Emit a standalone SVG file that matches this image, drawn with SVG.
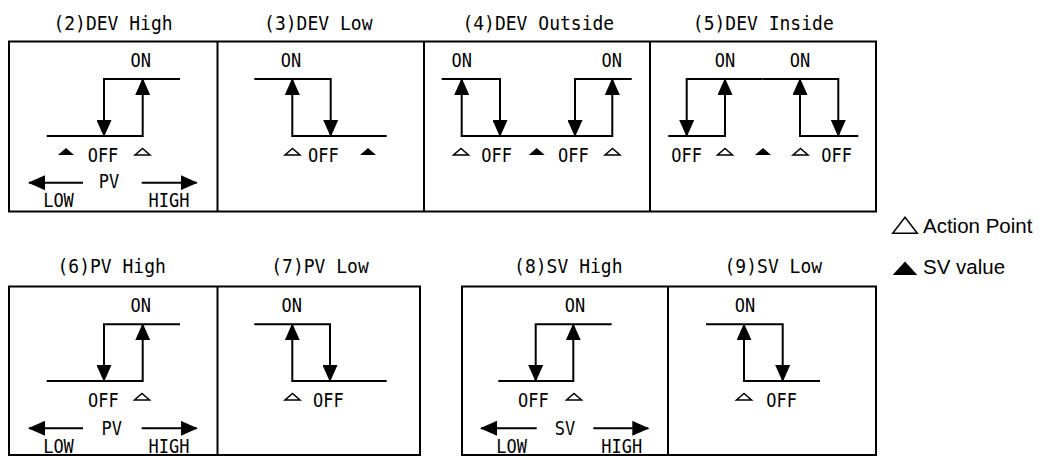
<svg xmlns="http://www.w3.org/2000/svg" width="1042" height="456" viewBox="0 0 1042 456">
<style>
.fr{fill:none;stroke:#000;stroke-width:2}
.c{fill:none;stroke:#000;stroke-width:2;marker-end:url(#ah)}
.t,.h{font-family:"DejaVu Sans Mono","Liberation Mono",monospace;fill:#000;text-anchor:middle;transform-box:fill-box;transform-origin:50% 79.7%;transform:scale(1,1.12)}
.t{font-size:17px}
.h{font-size:18px}
.lg{font-family:"Liberation Sans",Arial,sans-serif;font-size:20.5px;fill:#000}
.ft{fill:#000}
.ot{fill:#fff;stroke:#000;stroke-width:1.5}
</style>
<defs>
<marker id="ah" viewBox="0 0 17 15" refX="16" refY="7.5" markerWidth="17" markerHeight="15" orient="auto" markerUnits="userSpaceOnUse">
<path d="M0,0 L17,7.5 L0,15 z" fill="#000"/>
</marker>
<polygon id="sf" class="ft" points="-8,3.5 8,3.5 0,-3.5"/>
<polygon id="so" class="ot" points="-7.5,3.5 7.5,3.5 0,-3"/>
</defs>
<rect width="1042" height="456" fill="#fff"/>
<g id="frames">
<rect class="fr" x="9" y="41.5" width="867" height="170"/>
<line class="fr" x1="217.5" y1="41.5" x2="217.5" y2="211.5"/>
<line class="fr" x1="424" y1="41.5" x2="424" y2="211.5"/>
<line class="fr" x1="650" y1="41.5" x2="650" y2="211.5"/>
<rect class="fr" x="9" y="286.5" width="411" height="168.5"/>
<line class="fr" x1="217.5" y1="286.5" x2="217.5" y2="455"/>
<rect class="fr" x="462" y="286.5" width="414" height="168.5"/>
<line class="fr" x1="668" y1="286.5" x2="668" y2="455"/>
</g>
<g id="p2">
<text class="h" x="113" y="30">(2)DEV High</text>
<text class="t" x="140.7" y="66.7">ON</text>
<use href="#sf" x="66" y="151.5"/>
<text class="t" x="103" y="161.7">OFF</text>
<use href="#so" x="142.5" y="151.5"/>
<text class="t" x="109" y="188">PV</text>
<text class="t" x="58.5" y="206.7">LOW</text>
<text class="t" x="169" y="206.7">HIGH</text>
</g>
<g id="p3">
<text class="h" x="318.3" y="30">(3)DEV Low</text>
<text class="t" x="291" y="66.7">ON</text>
<use href="#so" x="292.5" y="151.5"/>
<text class="t" x="323.3" y="161.7">OFF</text>
<use href="#sf" x="368" y="151.5"/>
</g>
<g id="p4">
<text class="h" x="538.3" y="30">(4)DEV Outside</text>
<text class="t" x="461.7" y="66.7">ON</text>
<text class="t" x="611.7" y="66.7">ON</text>
<use href="#so" x="461" y="151.5"/>
<text class="t" x="496.7" y="161.7">OFF</text>
<use href="#sf" x="536.7" y="151.5"/>
<text class="t" x="573.3" y="161.7">OFF</text>
<use href="#so" x="612.5" y="151.5"/>
</g>
<g id="p5">
<text class="h" x="763.3" y="30">(5)DEV Inside</text>
<text class="t" x="725" y="66.7">ON</text>
<text class="t" x="800" y="66.7">ON</text>
<text class="t" x="686.7" y="161.7">OFF</text>
<use href="#so" x="725" y="151.5"/>
<use href="#sf" x="763" y="151.5"/>
<use href="#so" x="800.5" y="151.5"/>
<text class="t" x="836.7" y="161.7">OFF</text>
</g>
<g id="p6">
<text class="h" x="111.7" y="273.5">(6)PV High</text>
<text class="t" x="140.7" y="311.7">ON</text>
<text class="t" x="103.3" y="406.7">OFF</text>
<use href="#so" x="142" y="396.5"/>
<text class="t" x="111.7" y="435">PV</text>
<text class="t" x="58.5" y="453">LOW</text>
<text class="t" x="169" y="453">HIGH</text>
</g>
<g id="p7">
<text class="h" x="320" y="273.5">(7)PV Low</text>
<text class="t" x="291.7" y="311.7">ON</text>
<use href="#so" x="292.5" y="396.5"/>
<text class="t" x="328.3" y="406.7">OFF</text>
</g>
<g id="p8">
<text class="h" x="568.3" y="273.5">(8)SV High</text>
<text class="t" x="575" y="311.7">ON</text>
<text class="t" x="533.3" y="406.7">OFF</text>
<use href="#so" x="574" y="396.5"/>
<text class="t" x="565" y="435">SV</text>
<text class="t" x="511.7" y="453">LOW</text>
<text class="t" x="621.7" y="453">HIGH</text>
</g>
<g id="p9">
<text class="h" x="773.3" y="273.5">(9)SV Low</text>
<text class="t" x="745" y="311.7">ON</text>
<use href="#so" x="744" y="396.5"/>
<text class="t" x="781.7" y="406.7">OFF</text>
</g>
<g id="legend">
<polygon class="ot" points="892.7,233.3 917.3,233.3 905,217.3"/>
<text class="lg" x="923" y="232.7">Action Point</text>
<polygon class="ft" points="892.7,275 917.3,275 905,261.5"/>
<text class="lg" x="923" y="274">SV value</text>
</g>
<g id="connectors">
<path class="c" d="M180,79 H104 V136"/>
<path class="c" d="M46.7,136 H142.7 V79"/>
<path class="c" d="M83,182.7 H29"/>
<path class="c" d="M141.7,182.7 H196.7"/>
<path class="c" d="M254.3,79 H330.7 V136"/>
<path class="c" d="M386.7,136 H292.3 V79"/>
<path class="c" d="M536,136 H461.7 V79"/>
<path class="c" d="M536,136 H612.3 V79"/>
<path class="c" d="M441.7,79 H500 V136"/>
<path class="c" d="M631.7,79 H575 V136"/>
<path class="c" d="M762.5,79 H686.7 V136"/>
<path class="c" d="M762.5,79 H838.3 V136"/>
<path class="c" d="M668.3,136 H725 V79"/>
<path class="c" d="M858.3,136 H800 V79"/>
<path class="c" d="M180,324.3 H104 V381"/>
<path class="c" d="M46.7,381 H142.7 V324.3"/>
<path class="c" d="M83,428.3 H29"/>
<path class="c" d="M141.7,428.3 H196.7"/>
<path class="c" d="M254.3,324.3 H330 V381"/>
<path class="c" d="M386.7,381 H292.3 V324.3"/>
<path class="c" d="M611.7,324.3 H535.7 V381"/>
<path class="c" d="M498.3,381 H573.3 V324.3"/>
<path class="c" d="M536.7,428.3 H481"/>
<path class="c" d="M593.3,428.3 H648.3"/>
<path class="c" d="M706,324.3 H782.7 V381"/>
<path class="c" d="M820,381 H744 V324.3"/>
</g>
</svg>
